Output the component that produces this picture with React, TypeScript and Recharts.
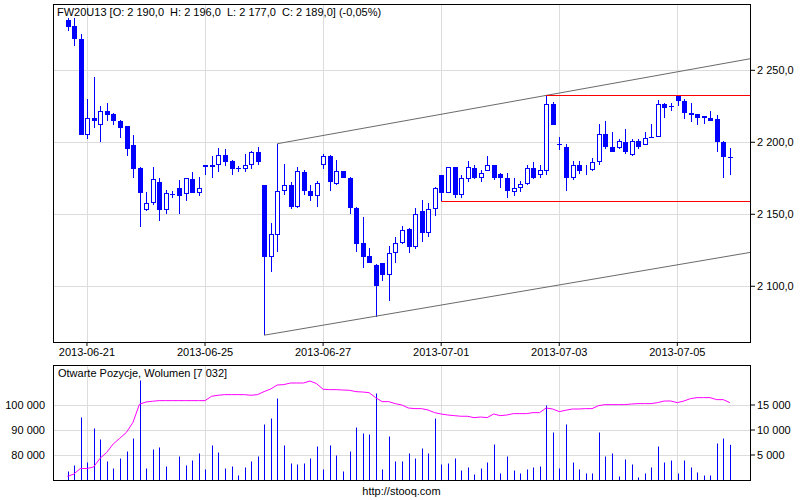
import React from "react";
import {
  Bar,
  CartesianGrid,
  ComposedChart,
  Line,
  ReferenceLine,
  XAxis,
  YAxis,
} from "recharts";

// hourly candles, 2013-06-20 (last 3 bars) .. 2013-07-05
const opens = [
  2285, 2281, 2272, 2205, 2217, 2212, 2222, 2219.5, 2215, 2211,
  2198, 2182, 2153, 2157.5, 2172.5, 2153, 2164, 2168, 2164, 2174.5,
  2165, 2184, 2182.5, 2184, 2191, 2187, 2182, 2181.5, 2184.5, 2193,
  2170, 2120, 2135.5, 2166.5, 2170, 2155, 2179.5, 2166, 2163, 2184.5,
  2190.5, 2171, 2180, 2175.5, 2154.5, 2130, 2121, 2115, 2116, 2108,
  2123, 2130, 2140, 2127, 2152.5, 2137, 2154, 2177, 2165, 2182.5,
  2163.5, 2174.5, 2182, 2175, 2180, 2184.5, 2178, 2175, 2165.5, 2168,
  2171, 2182, 2177, 2180, 2226.5, 2198.5, 2197, 2175.5, 2184.5, 2180,
  2181, 2186, 2205.5, 2197, 2196, 2200, 2191.5, 2201, 2198, 2203.5,
  2204, 2226.5, 2225, 2232.5, 2229, 2220.5, 2219.5, 2218.5, 2217, 2216.5,
  2200.5, 2190,
];
const highs = [
  2286, 2286, 2275, 2230, 2245, 2225, 2227.5, 2220.5, 2215.5, 2211.5,
  2205, 2182.5, 2165.5, 2182.5, 2175, 2167, 2166, 2173.5, 2175.5, 2179.5,
  2176, 2184.5, 2190.5, 2196, 2195.5, 2188, 2183.5, 2192, 2194, 2197,
  2170, 2144, 2199, 2185, 2172.5, 2182.5, 2180.5, 2170, 2173, 2192,
  2191.5, 2188, 2180, 2176, 2155, 2148, 2126.5, 2115.5, 2116.5, 2128,
  2134.5, 2142, 2140.5, 2154.5, 2160, 2157.5, 2169, 2177.5, 2183, 2183,
  2177, 2187, 2184, 2180.5, 2190.5, 2184.5, 2179, 2179, 2175.5, 2173,
  2184, 2186, 2184, 2232.5, 2228, 2204, 2198.5, 2187, 2187, 2184.5,
  2189, 2212.5, 2214.5, 2207, 2202, 2209.5, 2202.5, 2202, 2207, 2212.5,
  2229.5, 2227, 2227, 2232.5, 2230, 2227, 2219.5, 2218.5, 2221.5, 2219,
  2201, 2196,
];
const lows = [
  2277, 2267, 2205, 2202, 2210, 2200, 2214.5, 2212, 2203, 2190.5,
  2175, 2141, 2152, 2156.5, 2145.5, 2150, 2161.5, 2150.5, 2159, 2164.5,
  2163, 2177, 2175, 2179.5, 2183.5, 2177, 2179.5, 2179.5, 2181.5, 2184,
  2066, 2110, 2124, 2163.5, 2154, 2154.5, 2163.5, 2159, 2155, 2181.5,
  2166.5, 2170.5, 2175, 2150.5, 2124, 2112.5, 2116, 2079, 2103.5, 2089.5,
  2116.5, 2129.5, 2123, 2126, 2131, 2134.5, 2148.5, 2159, 2164.5, 2161,
  2161, 2172.5, 2174.5, 2172.5, 2180, 2173.5, 2168, 2161, 2163, 2165.5,
  2170, 2174.5, 2175.5, 2177.5, 2212, 2194.5, 2166, 2174, 2178, 2177,
  2180, 2184.5, 2195.5, 2193.5, 2195.5, 2192, 2190.5, 2195.5, 2198, 2203,
  2203.5, 2217, 2221.5, 2225, 2216.5, 2214, 2212, 2212.5, 2214.5, 2193.5,
  2175.5, 2177,
];
const closes = [
  2280, 2272, 2205, 2217, 2215, 2221.5, 2219, 2215, 2210, 2195.5,
  2181.5, 2165, 2157.5, 2174.5, 2153, 2165, 2164, 2163, 2175, 2165,
  2168.5, 2182.5, 2184, 2191, 2186, 2181.5, 2182, 2184, 2193, 2186.5,
  2120, 2136, 2166.5, 2170, 2155, 2180, 2166.5, 2163, 2172, 2190.5,
  2172.5, 2180, 2175, 2154.5, 2129.5, 2120.5, 2116, 2100, 2108, 2123,
  2130, 2139, 2127, 2150.5, 2137, 2154, 2168.5, 2165, 2182.5, 2163.5,
  2175, 2182.5, 2175, 2179, 2184.5, 2175.5, 2175, 2166, 2168, 2171,
  2182, 2175.5, 2181, 2226.5, 2212, 2198.5, 2175.5, 2184, 2180, 2181,
  2186, 2205.5, 2197, 2193.5, 2201, 2193, 2201, 2197, 2203, 2204,
  2226.5, 2224, 2225, 2229, 2220, 2219, 2217, 2217, 2214.5, 2200.5,
  2190, 2189,
];
const volumes = [
  1700, 2900, 12500, 3500, 10300, 8100, 3700, 2300, 4300, 5700,
  8300, 19900, 2300, 6100, 6500, 2700, 0, 4700, 2900, 3900,
  5300, 2100, 6900, 5500, 2300, 2700, 900, 2500, 3700, 4700,
  11100, 12300, 16300, 6900, 3300, 3100, 3300, 4300, 6700, 2100,
  6900, 4900, 1700, 5700, 10500, 9300, 9100, 17300, 2100, 8700,
  3700, 3700, 5300, 4300, 6300, 5300, 12300, 3100, 3300, 4300,
  1900, 2500, 1100, 2300, 3500, 7100, 1300, 4700, 1900, 1300,
  2100, 2500, 2700, 14900, 9500, 2300, 11100, 3500, 2100, 1300,
  1300, 9500, 4700, 5300, 700, 4100, 3100, 500, 1300, 2500,
  6700, 3500, 3900, 1300, 3900, 2500, 1500, 900, 900, 7300,
  8300, 7032,
];
const openInterest = [
  71400, 72400, 74600, 74600, 75200, 78700, 81000, 84400, 86700, 89000,
  93000, 100300, 101200, 101500, 101750, 101750, 101750, 101750, 101750, 101750,
  101750, 101750, 103500, 103900, 104150, 104150, 104150, 104150, 103900, 104150,
  105350, 106400, 108000, 108150, 108800, 108800, 108800, 109600, 108550, 106300,
  106150, 106150, 106000, 105900, 105350, 105200, 104950, 102950, 101350, 101350,
  100550, 100000, 98800, 98550, 98550, 98000, 96950, 96400, 96000, 95750,
  95500, 95500, 94950, 95200, 94950, 96400, 95750, 96000, 96550, 96550,
  96550, 96950, 96950, 98800, 98400, 97350, 97900, 98400, 98400, 98550,
  98550, 99750, 100150, 100150, 100150, 100150, 100400, 100550, 100550, 100550,
  100950, 101600, 101600, 100950, 101600, 102550, 102950, 102950, 102950, 102150,
  102150, 100950,
];

const dateTicks = [3, 21, 39, 57, 75, 93];
const dateLabels = [
  "2013-06-21",
  "2013-06-25",
  "2013-06-27",
  "2013-07-01",
  "2013-07-03",
  "2013-07-05",
];
const priceTicks = [2100, 2150, 2200, 2250];
const oiTicks = [80000, 90000, 100000];
const volTicks = [5000, 10000, 15000];

const X_DOMAIN: [number, number] = [-2.18, 104.08];
const PRICE_DOMAIN: [number, number] = [2061.3, 2295.35];
const OI_DOMAIN: [number, number] = [70000, 116000];
const VOL_DOMAIN: [number, number] = [0, 23000];

// hand drawn lines on the chart (index, price)
const upperChannel = [
  { x: 32, y: 2199 },
  { x: X_DOMAIN[1], y: 2258 },
];
const lowerChannel = [
  { x: 30, y: 2066 },
  { x: X_DOMAIN[1], y: 2123.5 },
];
const resistance = [
  { x: 73, y: 2232.5 },
  { x: X_DOMAIN[1], y: 2232.5 },
];
const support = [
  { x: 57, y: 2159 },
  { x: X_DOMAIN[1], y: 2159 },
];

const rows = opens.map((open, i) => ({
  i,
  open,
  high: highs[i],
  low: lows[i],
  close: closes[i],
  vol: volumes[i],
  oi: openInterest[i],
}));

const BLUE = "#0000ff";
const RED = "#ff0000";
const GRID = "#dcdcdc";
const FONT = '"Liberation Sans", Arial, sans-serif';

const spaced = (v: number) =>
  String(Math.round(v)).replace(/\B(?=(\d{3})+(?!\d))/g, " ");

const applyScale = (scale: any, v: number): number => {
  if (typeof scale === "function") return scale(v);
  if (scale && typeof scale.map === "function") return scale.map(v);
  return NaN;
};

// grid lines snapped to whole pixels, positions taken from the axis scale
const xGrid = ({ xAxis, offset }: any) => {
  const out = dateTicks.map((t) => applyScale(xAxis?.scale, t));
  const ok = out.every(Number.isFinite)
    ? out
    : dateTicks.map(
        (t) =>
          offset.left +
          ((t - X_DOMAIN[0]) / (X_DOMAIN[1] - X_DOMAIN[0])) * offset.width
      );
  return ok.map((p) => Math.round(p) + 0.5);
};

const yGrid =
  (ticks: number[], domain: [number, number]) =>
  ({ yAxis, offset }: any) => {
    const out = ticks.map((t) => applyScale(yAxis?.scale, t));
    const ok = out.every(Number.isFinite)
      ? out
      : ticks.map(
          (t) =>
            offset.top +
            (1 - (t - domain[0]) / (domain[1] - domain[0])) * offset.height
        );
    return ok.map((p) => Math.round(p) + 0.5);
  };

function Candle(props: any) {
  const { x, y, width, height, payload } = props;
  if (x == null || !payload) return null;
  const { open, close, high, low } = payload;
  const top = Math.min(y, y + height);
  const h = Math.abs(height);
  const c = Math.round(x + width / 2);
  const k = high > low ? h / (high - low) : 0;
  const yO = top + (high - open) * k;
  const yC = top + (high - close) * k;
  const bTop = Math.min(yO, yC);
  const bBot = Math.max(yO, yC);
  const wick = (
    <line
      x1={c + 0.5}
      x2={c + 0.5}
      y1={Math.round(top)}
      y2={Math.round(top + h)}
      stroke={BLUE}
      strokeWidth={1}
    />
  );
  if (bBot - bTop < 1.2) {
    const yy = Math.round(bTop) + 0.5;
    return (
      <g>
        {wick}
        <line x1={c - 2} x2={c + 3} y1={yy} y2={yy} stroke={BLUE} />
      </g>
    );
  }
  const t = Math.round(bTop);
  const b = Math.round(bBot);
  if (close < open) {
    return (
      <g>
        {wick}
        <rect x={c - 2} y={t} width={5} height={b - t} fill={BLUE} />
      </g>
    );
  }
  return (
    <g>
      {wick}
      <rect
        x={c - 1.5}
        y={t + 0.5}
        width={4}
        height={Math.max(b - t - 1, 0)}
        fill="#ffffff"
        stroke={BLUE}
        strokeWidth={1}
      />
    </g>
  );
}

function VolumeBar(props: any) {
  const { x, y, width, height } = props;
  if (x == null || !height) return null;
  const c = Math.round(x + width / 2);
  return <rect x={c} y={y} width={1} height={height} fill={BLUE} />;
}

// crisp horizontal line for the drawn levels
const levelLine = (color: string) => (p: any) =>
  (
    <line
      x1={p.x1}
      x2={p.x2}
      y1={Math.round(p.y1) + 0.5}
      y2={Math.round(p.y2) + 0.5}
      stroke={color}
      strokeWidth={1}
    />
  );

const frame = (left: number, top: number, w: number, h: number) => ({
  position: "absolute" as const,
  left,
  top,
  width: w,
  height: h,
  border: "1px solid #000",
  boxSizing: "border-box" as const,
  pointerEvents: "none" as const,
});

const tickStyle = { fill: "#000", fontSize: 11, fontFamily: FONT };

export default function App() {
  return (
    <div
      style={{
        position: "absolute",
        left: 0,
        top: 0,
        width: 800,
        height: 500,
        background: "#fff",
        fontFamily: FONT,
        fontSize: 11,
        color: "#000",
      }}
    >
      <div style={{ position: "absolute", left: 0, top: 0 }}>
        <ComposedChart
          width={800}
          height={360}
          data={rows}
          margin={{ top: 5, right: 0, bottom: 0, left: 53 }}
        >
          <CartesianGrid
            stroke={GRID}
            verticalCoordinatesGenerator={xGrid}
            horizontalCoordinatesGenerator={yGrid(priceTicks, PRICE_DOMAIN)}
          />
          <XAxis
            type="number"
            dataKey="i"
            domain={X_DOMAIN}
            allowDataOverflow
            ticks={dateTicks}
            interval={0}
            tickFormatter={(v) => dateLabels[dateTicks.indexOf(v)] ?? ""}
            height={18}
            tickSize={4}
            tickMargin={2}
            axisLine={false}
            tickLine={{ stroke: "#000" }}
            tick={tickStyle}
          />
          <YAxis
            orientation="right"
            domain={PRICE_DOMAIN}
            allowDataOverflow
            ticks={priceTicks}
            interval={0}
            tickFormatter={(v) => `${spaced(v)},0`}
            width={50}
            tickSize={5}
            tickMargin={2}
            axisLine={false}
            tickLine={{ stroke: "#000" }}
            tick={{ ...tickStyle, textAnchor: "start" }}
          />
          <ReferenceLine segment={upperChannel} stroke="#6a6a6a" strokeWidth={1} />
          <ReferenceLine segment={lowerChannel} stroke="#6a6a6a" strokeWidth={1} />
          <Bar
            dataKey={(d: any) => [d.low, d.high]}
            barSize={5}
            shape={(p: any) => <Candle {...p} />}
            isAnimationActive={false}
          />
          <ReferenceLine
            segment={resistance}
            stroke={RED}
            shape={levelLine(RED)}
          />
          <ReferenceLine segment={support} stroke={RED} shape={levelLine(RED)} />
        </ComposedChart>
      </div>
      <div style={frame(53, 4, 698, 339)} />
      <div
        style={{
          position: "absolute",
          left: 57,
          top: 6,
          whiteSpace: "pre",
          lineHeight: "13px",
        }}
      >
        {"FW20U13 [O: 2 190,0  H: 2 196,0  L: 2 177,0  C: 2 189,0] (-0,05%)"}
      </div>

      <div style={{ position: "absolute", left: 0, top: 360 }}>
        <ComposedChart
          width={800}
          height={140}
          data={rows}
          margin={{ top: 5, right: 0, bottom: 19, left: 0 }}
        >
          <CartesianGrid
            stroke={GRID}
            yAxisId="vol"
            verticalCoordinatesGenerator={xGrid}
            horizontalCoordinatesGenerator={yGrid(volTicks, VOL_DOMAIN)}
          />
          <XAxis
            type="number"
            dataKey="i"
            domain={X_DOMAIN}
            allowDataOverflow
            ticks={dateTicks}
            interval={0}
            height={1}
            tick={false}
            tickLine={false}
            axisLine={false}
          />
          <YAxis
            yAxisId="oi"
            orientation="left"
            domain={OI_DOMAIN}
            allowDataOverflow
            ticks={oiTicks}
            interval={0}
            tickFormatter={spaced}
            width={53}
            tickSize={5}
            tickMargin={3}
            axisLine={false}
            tickLine={false}
            tick={tickStyle}
          />
          <YAxis
            yAxisId="vol"
            orientation="right"
            domain={VOL_DOMAIN}
            allowDataOverflow
            ticks={volTicks}
            interval={0}
            tickFormatter={spaced}
            width={50}
            tickSize={5}
            tickMargin={2}
            axisLine={false}
            tickLine={{ stroke: "#000" }}
            tick={{ ...tickStyle, textAnchor: "start" }}
          />
          <Bar
            yAxisId="vol"
            dataKey="vol"
            barSize={1}
            shape={(p: any) => <VolumeBar {...p} />}
            isAnimationActive={false}
          />
          <Line
            yAxisId="oi"
            dataKey="oi"
            type="linear"
            stroke="#ff00ff"
            strokeWidth={1}
            dot={false}
            activeDot={false}
            isAnimationActive={false}
          />
        </ComposedChart>
      </div>
      <div style={frame(53, 365, 698, 116)} />
      <div
        style={{
          position: "absolute",
          left: 58,
          top: 367,
          whiteSpace: "pre",
          lineHeight: "13px",
        }}
      >
        Otwarte Pozycje, Wolumen [7 032]
      </div>
      <div
        style={{
          position: "absolute",
          left: 0,
          width: 803,
          top: 485,
          textAlign: "center",
          lineHeight: "13px",
        }}
      >
        http://stooq.com
      </div>
    </div>
  );
}
